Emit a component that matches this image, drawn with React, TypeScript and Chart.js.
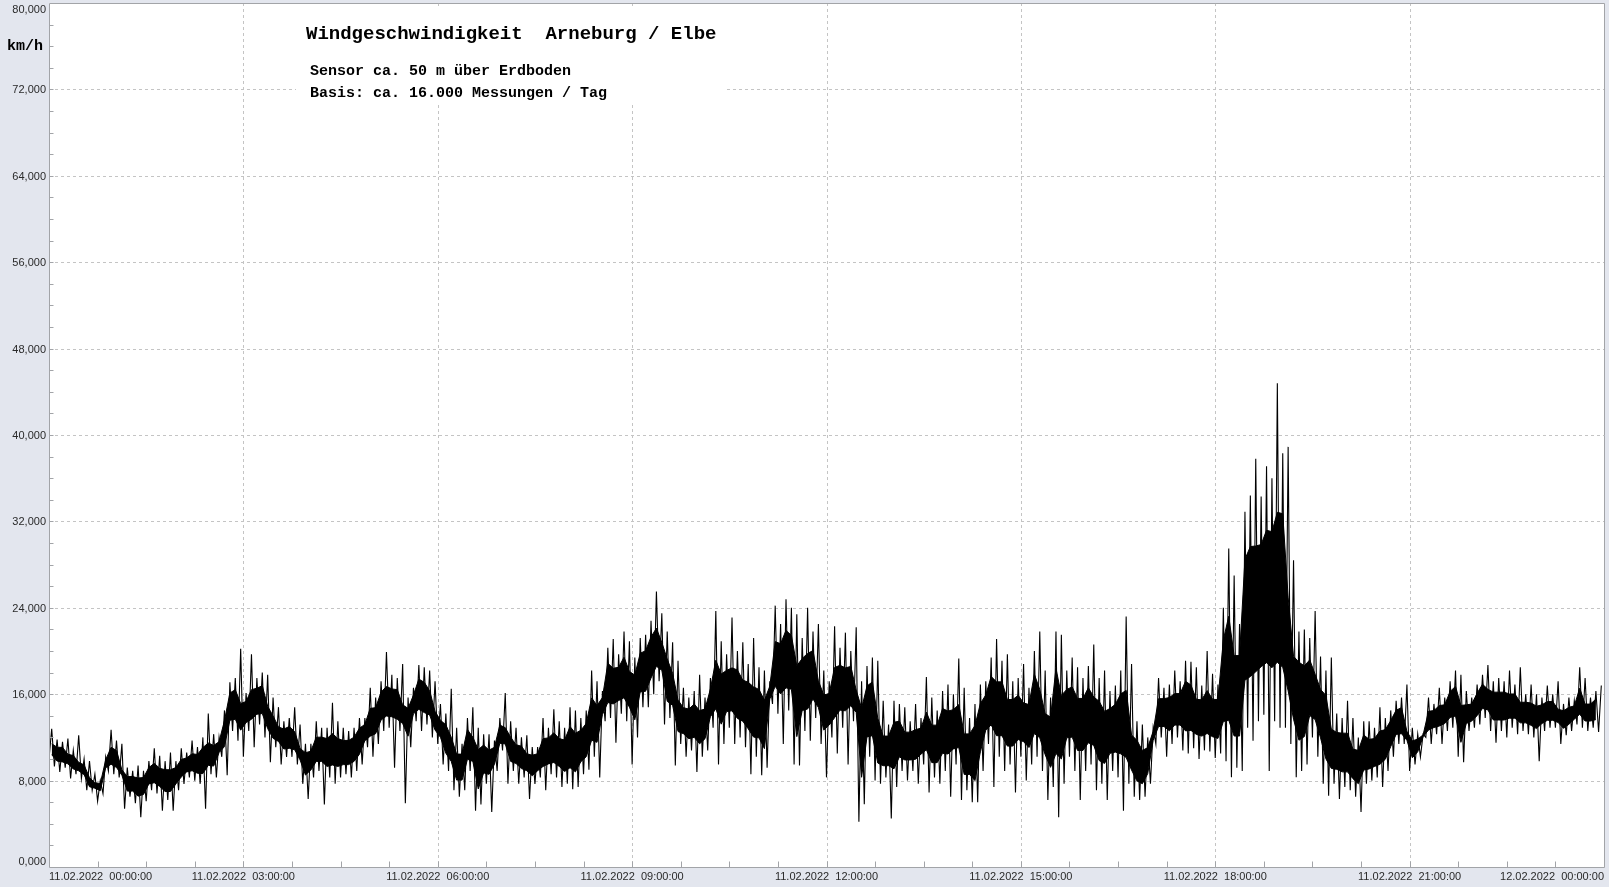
import React, { useEffect, useRef } from 'react';
import { Chart, registerables } from 'chart.js';

Chart.register(...registerables);

// 5-minute bins, 11.02.2022 00:00 -> 12.02.2022 00:00 (km/h)
const BIN_MINUTES = 5;

const windLow: number[] = [
  // 00:00 - 04:45
  10.0, 9.3, 8.8, 9.2, 8.2, 8.6, 8.2, 7.1, 7.1, 6.1,
  6.8, 8.9, 8.6, 8.3, 5.4, 6.5, 5.9, 4.6, 6.1, 7.1,
  6.8, 5.2, 6.2, 5.2, 7.1, 7.7, 8.3, 8.0, 7.7, 5.4,
  8.6, 8.3, 10.2, 8.5, 12.6, 11.7, 10.2, 12.6, 11.1, 13.2,
  12.0, 9.7, 11.1, 9.5, 10.2, 10.2, 9.5, 7.7, 6.3, 8.3,
  8.9, 5.8, 8.3, 7.7, 8.3, 8.6, 8.3, 8.9,
  // 04:50 - 09:35
  9.5, 11.1, 10.2, 11.4, 12.6, 12.9, 9.2, 12.6, 5.9, 11.1,
  13.5, 12.6, 13.2, 12.0, 11.4, 9.5, 8.9, 7.1, 6.5, 7.1,
  8.9, 5.2, 5.8, 7.7, 5.1, 8.9, 10.8, 7.7, 8.9, 7.7,
  8.3, 6.3, 7.7, 8.3, 7.1, 8.6, 8.3, 7.4, 7.7, 7.2,
  7.4, 8.6, 9.0, 10.2, 8.3, 13.5, 13.8, 11.5, 14.2, 13.5,
  9.5, 12.0, 14.8, 14.8, 16.0, 17.2, 13.2, 13.8,
  // 09:40 - 14:20
  9.4, 11.4, 10.2, 10.8, 8.8, 10.2, 10.8, 12.9, 9.5, 11.4,
  12.9, 11.4, 12.0, 11.1, 8.6, 10.2, 8.5, 9.2, 15.1, 14.2,
  11.4, 14.5, 9.5, 9.4, 12.6, 11.7, 13.8, 11.4, 8.3, 12.0,
  10.5, 12.9, 9.5, 13.5, 4.2, 5.8, 10.2, 8.0, 7.7, 8.3,
  4.5, 7.4, 8.9, 8.0, 8.9, 7.7, 9.5, 6.9, 8.3, 7.7,
  8.9, 6.5, 9.5, 6.2, 7.1, 6.0, 6.0,
  // 14:25 - 18:00
  8.9, 11.4, 7.4, 10.2, 8.9, 9.5, 6.9, 10.2, 8.0, 9.5,
  10.2, 8.9, 6.2, 7.4, 4.6, 7.7, 10.2, 8.9, 6.2, 8.9,
  9.5, 7.1, 7.7, 6.2, 8.9, 8.3, 5.2, 7.7, 6.5, 6.2,
  6.5, 7.7, 11.4, 12.0, 10.2, 11.4, 12.0, 10.8, 10.5, 11.0,
  10.0, 10.8, 10.7, 10.1,
  // 18:05 - 23:55
  10.5, 9.8, 8.3, 9.2, 8.9, 12.9, 11.7, 13.5, 14.1, 8.9,
  13.5, 12.9, 12.9, 11.4, 8.3, 8.9, 9.5, 12.0, 10.2, 7.7,
  6.6, 7.7, 6.3, 7.4, 7.1, 6.5, 5.1, 7.7, 8.0, 8.3,
  7.4, 8.9, 10.2, 11.4, 11.4, 8.9, 9.5, 10.2, 12.0, 11.4,
  12.3, 11.4, 12.6, 12.9, 10.2, 9.7, 12.6, 12.9, 13.2, 13.8,
  12.6, 11.5, 12.6, 12.0, 12.9, 12.3, 12.6, 12.3, 12.0, 9.8,
  12.6, 12.9, 12.9, 11.4, 12.2, 12.6, 13.2, 12.9, 12.6, 12.9,
  12.5,
];

const windHigh: number[] = [
  // 00:00 - 04:45
  12.8, 11.8, 11.6, 11.9, 10.8, 12.2, 10.0, 9.8, 8.6, 8.0,
  10.2, 12.7, 11.7, 11.4, 9.2, 8.9, 9.4, 8.9, 9.8, 11.0,
  10.3, 9.8, 10.6, 9.8, 11.0, 10.6, 11.7, 11.1, 12.0, 14.2,
  12.3, 12.0, 14.5, 17.1, 17.5, 20.2, 16.1, 19.7, 17.5, 18.0,
  17.8, 15.7, 14.8, 13.5, 13.8, 14.8, 13.2, 11.4, 11.4, 13.5,
  12.9, 12.9, 15.2, 13.5, 12.9, 12.6, 12.9, 13.8,
  // 04:50 - 09:35
  13.8, 16.6, 15.7, 17.2, 19.9, 17.8, 17.5, 18.8, 15.7, 16.6,
  18.7, 18.5, 18.2, 17.2, 15.1, 14.2, 16.5, 12.9, 11.4, 13.8,
  14.8, 12.9, 12.3, 12.3, 11.7, 13.8, 16.1, 13.5, 12.9, 12.0,
  12.2, 11.1, 11.1, 13.8, 12.9, 14.6, 13.5, 12.9, 14.8, 14.5,
  13.8, 14.5, 18.2, 17.2, 16.3, 20.3, 21.1, 19.7, 21.8, 20.9,
  19.4, 21.2, 21.5, 22.8, 25.5, 23.5, 21.8, 20.8,
  // 09:40 - 14:20
  19.1, 16.6, 15.7, 16.3, 17.8, 15.7, 17.5, 23.7, 20.9, 19.7,
  23.1, 20.0, 20.8, 18.8, 21.2, 18.5, 18.2, 17.2, 24.2, 22.5,
  24.8, 24.0, 23.4, 21.2, 24.0, 21.8, 22.5, 18.2, 17.2, 22.3,
  20.3, 21.7, 20.0, 22.2, 17.2, 18.6, 19.4, 19.1, 15.4, 13.2,
  15.4, 15.1, 14.8, 13.5, 15.1, 13.8, 17.6, 15.7, 14.5, 16.3,
  16.9, 16.0, 19.3, 16.6, 13.8, 15.1, 16.9,
  // 14:25 - 18:00
  17.2, 19.4, 21.1, 19.1, 19.7, 17.2, 17.5, 18.8, 16.6, 20.0,
  21.8, 18.2, 15.7, 21.8, 21.5, 18.2, 19.4, 18.5, 17.5, 18.6,
  20.6, 17.5, 18.2, 16.3, 16.8, 18.2, 23.2, 18.8, 13.5, 13.2,
  12.0, 12.9, 17.5, 16.6, 16.9, 18.2, 17.2, 19.1, 19.0, 18.5,
  16.8, 20.0, 17.9, 16.9,
  // 18:05 - 23:55
  24.0, 29.5, 27.0, 22.5, 32.9, 34.4, 37.8, 34.3, 37.1, 36.0,
  44.8, 38.3, 38.9, 28.4, 21.8, 22.0, 21.2, 23.7, 19.5, 18.2,
  19.4, 14.2, 13.8, 15.4, 13.8, 12.0, 13.5, 13.5, 12.9, 14.8,
  13.8, 14.5, 15.4, 15.7, 16.9, 12.9, 12.3, 12.3, 15.7, 15.1,
  16.6, 15.7, 17.2, 18.2, 17.8, 16.3, 15.7, 16.9, 17.8, 18.7,
  17.2, 17.5, 17.2, 18.2, 16.9, 18.5, 16.0, 16.9, 16.0, 15.7,
  16.8, 16.0, 17.2, 15.1, 15.7, 15.4, 18.5, 17.5, 15.7, 16.3,
  16.8,
];

const yTickValues = [0, 8, 16, 24, 32, 40, 48, 56, 64, 72, 80];
const xTickMinutes = [0, 180, 360, 540, 720, 900, 1080, 1260, 1440];
const xTickLabels = [
  '11.02.2022  00:00:00',
  '11.02.2022  03:00:00',
  '11.02.2022  06:00:00',
  '11.02.2022  09:00:00',
  '11.02.2022  12:00:00',
  '11.02.2022  15:00:00',
  '11.02.2022  18:00:00',
  '11.02.2022  21:00:00',
  '12.02.2022  00:00:00',
];
const titleText = 'Windgeschwindigkeit  Arneburg / Elbe';
const subtitleLines = ['Sensor ca. 50 m über Erdboden', 'Basis: ca. 16.000 Messungen / Tag'];
const unitText = 'km/h';

const BG = '#e3e6ee';
const FRAME = '#a2a4a8';
const GRID = '#c4c4c4';
const MONO = '"Liberation Mono", "Courier New", monospace';
const SANS = '"Liberation Sans", Arial, sans-serif';

const decorPlugin = {
  id: 'decor',
  beforeDraw(chart: any) {
    const { ctx, chartArea: a, width, height } = chart;
    ctx.save();
    ctx.fillStyle = BG;
    ctx.fillRect(0, 0, width, height);
    ctx.fillStyle = '#ffffff';
    ctx.fillRect(a.left, a.top, a.right - a.left, a.bottom - a.top);
    ctx.restore();
  },
  beforeDatasetsDraw(chart: any) {
    const { ctx, chartArea: a, scales } = chart;
    const xs = scales.x;
    const ys = scales.y;
    ctx.save();
    ctx.strokeStyle = GRID;
    ctx.lineWidth = 1;
    ctx.setLineDash([3, 3]);
    yTickValues.forEach((v) => {
      if (v <= 0 || v >= 80) return;
      const y = Math.round(ys.getPixelForValue(v)) + 0.5;
      ctx.beginPath();
      ctx.moveTo(a.left, y);
      ctx.lineTo(a.right, y);
      ctx.stroke();
    });
    xTickMinutes.forEach((m) => {
      if (m <= 0 || m >= 1440) return;
      const x = Math.round(xs.getPixelForValue(m)) + 0.5;
      ctx.beginPath();
      ctx.moveTo(x, a.top);
      ctx.lineTo(x, a.bottom);
      ctx.stroke();
    });
    ctx.setLineDash([]);
    // white background behind the title block
    ctx.fillStyle = '#ffffff';
    ctx.fillRect(296, 8, 431, 95);
    ctx.restore();
  },
  afterDatasetsDraw(chart: any) {
    const { ctx, chartArea: a, scales } = chart;
    const xs = scales.x;
    const ys = scales.y;
    ctx.save();
    // frame
    ctx.strokeStyle = FRAME;
    ctx.lineWidth = 1;
    const L = Math.round(a.left) + 0.5;
    const R = Math.round(a.right) + 0.5;
    const T = Math.round(a.top) + 0.5;
    const B = Math.round(a.bottom) + 0.5;
    ctx.beginPath();
    ctx.moveTo(L, T);
    ctx.lineTo(R, T);
    ctx.lineTo(R, B);
    ctx.lineTo(L, B);
    ctx.closePath();
    ctx.stroke();
    // minor ticks
    ctx.beginPath();
    for (let v = 2; v < 80; v += 2) {
      const y = Math.round(ys.getPixelForValue(v)) + 0.5;
      ctx.moveTo(L, y);
      ctx.lineTo(L + 4, y);
    }
    for (let m = 45; m < 1440; m += 45) {
      const x = Math.round(xs.getPixelForValue(m)) + 0.5;
      ctx.moveTo(x, B);
      ctx.lineTo(x, B - 6);
    }
    ctx.stroke();

    // y tick labels
    ctx.fillStyle = '#2a2a2a';
    ctx.font = `11px ${SANS}`;
    ctx.textAlign = 'right';
    ctx.textBaseline = 'middle';
    yTickValues.forEach((v) => {
      const txt = v.toFixed(3).replace('.', ',');
      let y = ys.getPixelForValue(v) + 1;
      y = Math.max(10, Math.min(862, y));
      ctx.fillText(txt, 46, y);
    });

    // x tick labels
    ctx.textAlign = 'left';
    xTickMinutes.forEach((m, i) => {
      const txt = xTickLabels[i];
      const w = ctx.measureText(txt).width;
      const px = xs.getPixelForValue(m);
      let left = px - w / 2;
      left = Math.max(a.left, Math.min(a.right - w, left));
      ctx.fillText(txt, left, 877);
    });

    // unit
    ctx.fillStyle = '#000';
    ctx.font = `bold 15px ${MONO}`;
    ctx.textBaseline = 'alphabetic';
    ctx.fillText(unitText, 7, 50);

    // title block
    ctx.font = `bold 19px ${MONO}`;
    ctx.fillText(titleText, 306, 39);
    ctx.font = `bold 15px ${MONO}`;
    ctx.fillText(subtitleLines[0], 310, 75);
    ctx.fillText(subtitleLines[1], 310, 97);
    ctx.restore();
  },
};

export default function App() {
  const canvasRef = useRef<HTMLCanvasElement | null>(null);

  useEffect(() => {
    document.body.style.margin = '0';
    document.body.style.background = BG;
    const canvas = canvasRef.current;
    if (!canvas) return;

    const n = windLow.length;
    // zig-zag trace through each bin's low and high reading
    const trace: { x: number; y: number }[] = [];
    windLow.forEach((lo, i) => {
      trace.push({ x: i * BIN_MINUTES, y: lo });
      trace.push({ x: i * BIN_MINUTES + BIN_MINUTES / 2, y: windHigh[i] });
    });
    // dense core: inner part of the range shared by adjacent bins (drawn solid)
    const coreTop: { x: number; y: number }[] = [];
    const coreBottom: { x: number; y: number }[] = [];
    for (let i = 0; i < n - 1; i++) {
      const top = Math.min(windHigh[i], windHigh[i + 1]);
      const bot = Math.max(windLow[i], windLow[i + 1]);
      const span = Math.max(0, top - bot);
      const mid = (top + bot) / 2;
      const x = i * BIN_MINUTES + BIN_MINUTES / 2;
      coreTop.push({ x, y: span > 0 ? top - span * 0.22 : mid });
      coreBottom.push({ x, y: span > 0 ? bot + span * 0.22 : mid });
    }

    const chart = new Chart(canvas, {
      type: 'line',
      data: {
        datasets: [
          {
            data: coreTop,
            borderColor: '#000000',
            borderWidth: 1,
            pointRadius: 0,
            tension: 0,
            fill: false,
            order: 2,
          },
          {
            data: coreBottom,
            borderColor: '#000000',
            backgroundColor: '#000000',
            borderWidth: 1,
            pointRadius: 0,
            tension: 0,
            fill: '-1',
            order: 2,
          },
          {
            data: trace,
            borderColor: '#000000',
            borderWidth: 1.1,
            pointRadius: 0,
            tension: 0,
            fill: false,
            order: 1,
          },
        ],
      },
      options: {
        responsive: false,
        devicePixelRatio: 1,
        animation: false,
        parsing: false,
        normalized: true,
        events: [],
        layout: { padding: { left: 49, top: 3, right: 5, bottom: 20 } },
        plugins: {
          legend: { display: false },
          tooltip: { enabled: false },
          title: { display: false },
        },
        scales: {
          x: { type: 'linear', display: false, min: 0, max: 1440 },
          y: { type: 'linear', display: false, min: 0, max: 80 },
        },
      },
      plugins: [decorPlugin],
    } as any);

    return () => chart.destroy();
  }, []);

  return (
    <div style={{ width: 1609, height: 887, background: BG }}>
      <canvas ref={canvasRef} width={1609} height={887} style={{ display: 'block' }} />
    </div>
  );
}
